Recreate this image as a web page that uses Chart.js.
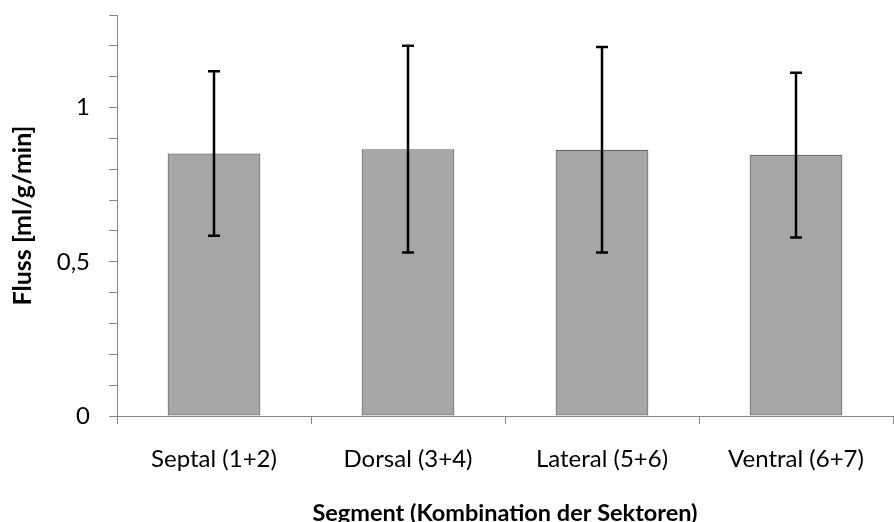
<!DOCTYPE html>
<html>
<head>
<meta charset="utf-8">
<script src="https://cdn.jsdelivr.net/npm/chart.js@4/dist/chart.umd.min.js"></script>
<style>
  html, body { margin: 0; padding: 0; background: #ffffff; }
  #wrap { width: 894px; height: 522px; }
</style>
</head>
<body>
<div id="wrap"><canvas id="c" width="894" height="522"></canvas></div>
<script>
// Segments (sector combinations)
const categories = ['Septal (1+2)', 'Dorsal (3+4)', 'Lateral (5+6)', 'Ventral (6+7)'];
// Mean flow per segment [ml/g/min]
const meanFlow = [0.851, 0.865, 0.863, 0.846];
// Standard deviation per segment
const sdFlow = [0.267, 0.335, 0.333, 0.267];
// Y-axis labelled values
const yLabelValues = [0, 0.5, 1];

const AXIS_GREY = '#868686';
const FONT = 'Lato';

// Draws symmetric error bars on top of the bars
const errorBars = {
  id: 'errorBars',
  afterDatasetsDraw(chart) {
    const meta = chart.getDatasetMeta(0);
    const y = chart.scales.y;
    const ctx = chart.ctx;
    ctx.save();
    ctx.strokeStyle = '#000000';
    ctx.lineWidth = 2.5;
    meta.data.forEach((bar, i) => {
      const yTop = y.getPixelForValue(meanFlow[i] + sdFlow[i]);
      const yBot = y.getPixelForValue(meanFlow[i] - sdFlow[i]);
      const x = bar.x;
      const cap = 6;
      ctx.beginPath();
      ctx.moveTo(x, yTop);
      ctx.lineTo(x, yBot);
      ctx.moveTo(x - cap, yTop);
      ctx.lineTo(x + cap, yTop);
      ctx.moveTo(x - cap, yBot);
      ctx.lineTo(x + cap, yBot);
      ctx.stroke();
    });
    ctx.restore();
  }
};

new Chart(document.getElementById('c'), {
  type: 'bar',
  data: {
    labels: categories,
    datasets: [{
      data: meanFlow,
      backgroundColor: '#a6a6a6',
      borderColor: '#666666',
      borderWidth: 1.2,
      borderSkipped: false,
      barPercentage: 0.478,
      categoryPercentage: 1.0
    }]
  },
  options: {
    responsive: false,
    animation: false,
    devicePixelRatio: 1,
    layout: { padding: { top: 15, right: 1, left: 0, bottom: 0 } },
    plugins: {
      legend: { display: false },
      tooltip: { enabled: false }
    },
    scales: {
      x: {
        grid: {
          offset: true,
          drawOnChartArea: false,
          drawTicks: true,
          tickLength: 8,
          color: AXIS_GREY,
          lineWidth: 1
        },
        border: { display: true, color: AXIS_GREY, width: 1 },
        ticks: {
          color: '#000000',
          padding: 21,
          maxRotation: 0,
          font: { family: FONT, size: 24 }
        },
        title: {
          display: true,
          text: 'Segment (Kombination der Sektoren)',
          color: '#000000',
          font: { family: FONT, size: 23.5, weight: 'bold' },
          padding: { top: 0, bottom: -6 }
        },
        afterFit(scale) { scale.height = 106; }
      },
      y: {
        min: 0,
        max: 1.3,
        grid: {
          drawOnChartArea: false,
          drawTicks: true,
          tickLength: 8,
          color: AXIS_GREY,
          lineWidth: 1
        },
        border: { display: true, color: AXIS_GREY, width: 1 },
        ticks: {
          stepSize: 0.1,
          autoSkip: false,
          color: '#000000',
          padding: 19,
          font: { family: FONT, size: 24 },
          callback(v) {
            const hit = yLabelValues.find(t => Math.abs(t - v) < 1e-6);
            return hit === undefined ? '' : String(hit).replace('.', ',');
          }
        },
        title: {
          display: true,
          text: 'Fluss [ml/g/min]',
          color: '#000000',
          font: { family: FONT, size: 25, weight: 'bold' },
          padding: { top: 8, bottom: 0 }
        },
        afterFit(scale) {
          scale.width = 117;
          scale.paddingTop = 0;
          scale.paddingBottom = 0;
        }
      }
    }
  },
  plugins: [errorBars]
});
</script>
</body>
</html>
